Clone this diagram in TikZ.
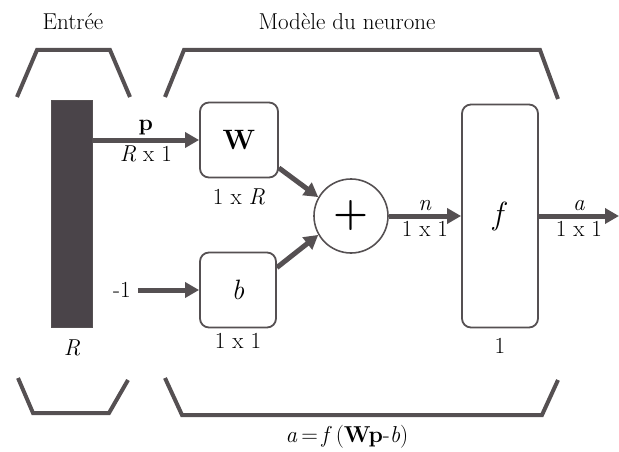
\documentclass[tikz,border=0pt]{standalone}
\usetikzlibrary{arrows.meta,positioning}
\definecolor{ink}{HTML}{555052}
\definecolor{barc}{HTML}{4A4449}
\newcommand{\lbltxt}{\fontsize{23}{27}\selectfont}
\tikzset{
  blk/.style={draw=ink,line width=1.8pt,rounded corners=9pt,fill=white,minimum width=78pt,minimum height=75pt,inner sep=0pt,font=\fontsize{28}{32}\selectfont},
  sumc/.style={circle,draw=ink,line width=1.6pt,minimum size=74pt,inner sep=0pt,font=\fontsize{40}{44}\selectfont\bfseries},
  ar/.style={-{Triangle[length=14pt,width=15pt]},line width=5pt,draw=ink},
  brk/.style={line width=4pt,draw=ink},
  lbl/.style={font=\lbltxt,inner sep=1pt},
}
\begin{document}
\begin{tikzpicture}[x=1pt,y=-1pt]
\useasboundingbox (0,0) rectangle (619,452);
% titles and brackets
\node[lbl] (tin) at (73,22) {Entrée};
\node[lbl] (tmod) at (347,22) {Modèle du neurone};
\draw[brk] (17,97) -- (37,50) -- (110,50) -- (130,97);
\draw[brk] (165,97) -- (184,50) -- (540,50) -- (558,99);
\draw[brk] (18,378) -- (33,413) -- (109,413) -- (128,380);
\draw[brk] (165,378) -- (182,415) -- (542,415) -- (558,380);
% blocks
\node[draw=ink,fill=barc,minimum width=41pt,minimum height=227pt,inner sep=0pt] (inp) at (72,214) {};
\node[blk] (W) at (239,140) {\textbf{W}};
\node[blk,minimum width=76pt] (b) at (238,290) {\textit{b}};
\node[sumc] (sum) at (351,216) {+};
\node[blk,minimum width=76pt,minimum height=223pt,font=\fontsize{32}{36}\selectfont] (f) at (500,216) {\textit{f}};
\node[lbl] (m1) at (122,290) {-1};
\coordinate (aout) at (619,216);
% sizes
\node[lbl,below=11pt of inp] (rin) {\textit{R}};
\node[lbl,below=9pt of W] (rw) {1 x \textit{R}};
\node[lbl,below=4pt of b] (rb) {1 x 1};
\node[lbl,below=9pt of f] (rf) {1};
\node[lbl] (eq) at (347,437) {\textit{a}\,=\,\textit{f}\,(\textbf{Wp}-\textit{b})};
% connectors
\draw[ar] (inp.east |- W.west) -- node[lbl,above=2pt]{\textbf{p}} node[lbl,below=2pt]{\textit{R} x 1} (W.west);
\draw[ar,shorten <=6pt] (m1.east) -- (b.west);
\draw[ar] (W.-35) -- (sum.150);
\draw[ar] (b.30) -- (sum.-150);
\draw[ar] (sum.east) -- node[lbl,above=2pt]{\textit{n}} node[lbl,below=2pt]{1 x 1} (f.west |- sum.east);
\draw[ar] (f.east |- aout) -- node[lbl,above=2pt]{\textit{a}} node[lbl,below=2pt]{1 x 1} (aout);
\end{tikzpicture}
\end{document}
